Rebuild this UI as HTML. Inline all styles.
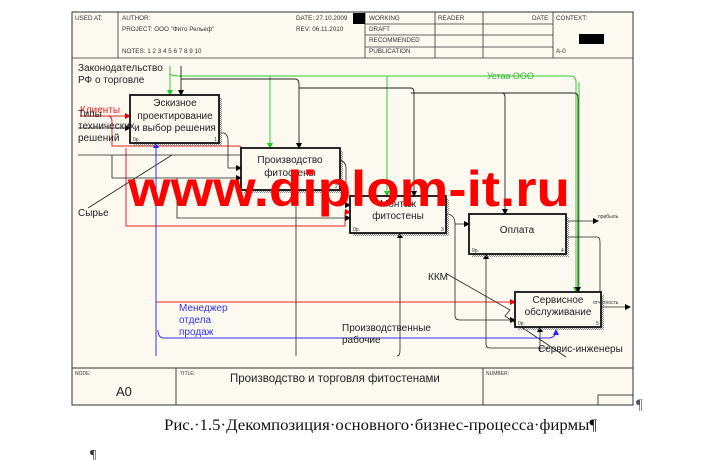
<!DOCTYPE html>
<html><head><meta charset="utf-8"><style>
html,body{margin:0;padding:0;background:#fff;width:712px;height:460px;overflow:hidden}
svg{display:block}
text{font-family:"Liberation Sans",Arial,sans-serif}
text.serif{font-family:"Liberation Serif","Times New Roman",serif}
</style></head><body>
<svg width="712" height="460" viewBox="0 0 712 460" xmlns="http://www.w3.org/2000/svg">
<defs>
<marker id="ak" markerWidth="6" markerHeight="6" refX="5" refY="3" orient="auto" markerUnits="userSpaceOnUse"><path d="M0,0 L6,3 L0,6z" fill="#000"/></marker>
<marker id="ar" markerWidth="6" markerHeight="6" refX="5" refY="3" orient="auto" markerUnits="userSpaceOnUse"><path d="M0,0 L6,3 L0,6z" fill="#e00"/></marker>
<marker id="ag" markerWidth="6" markerHeight="6" refX="5" refY="3" orient="auto" markerUnits="userSpaceOnUse"><path d="M0,0 L6,3 L0,6z" fill="#2c2"/></marker>
<marker id="ab" markerWidth="6" markerHeight="6" refX="5" refY="3" orient="auto" markerUnits="userSpaceOnUse"><path d="M0,0 L6,3 L0,6z" fill="#22f"/></marker>
<pattern id="sh" width="2" height="2" patternUnits="userSpaceOnUse"><rect width="1" height="1" fill="#888"/><rect x="1" y="1" width="1" height="1" fill="#888"/></pattern>
</defs>
<rect x="72" y="12" width="561" height="393" fill="#fcf9f0" stroke="#333" stroke-width="1"/>
<!-- header -->
<g stroke="#333" stroke-width="0.8" fill="none">
<line x1="72" y1="58" x2="633" y2="58"/>
<line x1="118" y1="12" x2="118" y2="58"/>
<line x1="365" y1="12" x2="365" y2="58"/>
<line x1="435" y1="12" x2="435" y2="58"/>
<line x1="483" y1="12" x2="483" y2="58"/>
<line x1="365" y1="24" x2="553" y2="24"/>
<line x1="365" y1="35" x2="553" y2="35"/>
<line x1="365" y1="47" x2="553" y2="47"/>
<line x1="553" y1="12" x2="553" y2="58"/>
</g>
<rect x="353" y="13" width="12" height="11" fill="#000"/>
<rect x="579" y="34" width="25" height="10" fill="#000"/>
<g font-size="6.3" fill="#333">
<text x="75" y="20">USED AT:</text>
<text x="122" y="20">AUTHOR:</text>
<text x="122" y="31">PROJECT:  ООО "Фито Рельеф"</text>
<text x="122" y="53">NOTES:  1  2  3  4  5  6  7  8  9  10</text>
<text x="296" y="20">DATE:  27.10.2009</text>
<text x="296" y="31">REV:   06.11.2010</text>
<text x="369" y="20">WORKING</text>
<text x="369" y="31">DRAFT</text>
<text x="369" y="42">RECOMMENDED</text>
<text x="369" y="53">PUBLICATION</text>
<text x="438" y="20">READER</text>
<text x="532" y="20">DATE</text>
<text x="556" y="20">CONTEXT:</text>
<text x="556" y="53">A-0</text>
</g>
<!-- footer -->
<g stroke="#333" stroke-width="0.9" fill="none">
<line x1="72" y1="368" x2="633" y2="368"/>
<line x1="176" y1="368" x2="176" y2="405"/>
<line x1="483" y1="368" x2="483" y2="405"/>
<rect x="598" y="395" width="35" height="10"/>
</g>
<text x="75" y="375" font-size="5" fill="#333">NODE:</text>
<text x="180" y="375" font-size="5" fill="#333">TITLE:</text>
<text x="486" y="375" font-size="5" fill="#333">NUMBER:</text>
<text x="116" y="396" font-size="13" fill="#222">A0</text>
<text x="230" y="382" font-size="11.5" fill="#222">Производство и  торговля фитостенами</text>
<text class="serif" x="636" y="409" font-size="15" fill="#555">¶</text>
<text class="serif" x="164" y="430" font-size="16" fill="#111" textLength="433" lengthAdjust="spacingAndGlyphs">Рис.·1.5·Декомпозиция·основного·бизнес-процесса·фирмы¶</text>
<text class="serif" x="90" y="459" font-size="14" fill="#333">¶</text>

<!-- green arrows -->
<g stroke="#3c3" stroke-width="1" fill="none">
<path d="M170,66 V95" marker-end="url(#ag)"/>
<path d="M170,74 Q172,76 180,76 H270 V148" marker-end="url(#ag)"/>
<path d="M180,76 H570 Q576,76 576,82 V292" marker-end="url(#ag)"/>
<path d="M387,76 V196" marker-end="url(#ag)"/>
<path d="M579,82 V292"/>
</g>
<text x="487" y="79" font-size="9" fill="#3b3">Устав ООО</text>
<!-- black control arrows -->
<g stroke="#222" stroke-width="0.9" fill="none">
<path d="M181,66 V95" marker-end="url(#ak)"/>
<path d="M181,79 H295 Q299,79 299,84 V148" marker-end="url(#ak)"/>
<path d="M299,88 H411 Q414,88 414,93 V196" marker-end="url(#ak)"/>
<path d="M411,93 H502 Q505,93 505,98 V214" marker-end="url(#ak)"/>
<path d="M502,93 H574 Q578,93 578,98 V292" marker-end="url(#ak)"/>
</g>
<!-- left inputs -->
<g stroke="#e22" stroke-width="1" fill="none">
<path d="M80,116 H130" marker-end="url(#ar)"/>
<path d="M108,116 Q112,116 112,122 V146 H238 Q242,146 242,150 V160" />
<path d="M126,148 V226 H345 V212 H350" marker-end="url(#ar)"/>
<path d="M156,302 H515" marker-end="url(#ar)"/>
</g>
<text x="80" y="113" font-size="10" fill="#e22">Клиенты</text>
<g stroke="#222" stroke-width="0.8" fill="none">
<path d="M78,128 H130" marker-end="url(#ak)"/>
<path d="M78,155 H240"/>
<path d="M112,155 V178 H241" marker-end="url(#ak)"/>
<path d="M219,133 H224 Q228,135 228,140 V168 H241" marker-end="url(#ak)"/>
<path d="M177,178 V218 H350" marker-end="url(#ak)"/>
<path d="M340,160 Q346,162 346,168 V205 H350" marker-end="url(#ak)"/>
<path d="M446,214 Q455,214 455,224 H469" marker-end="url(#ak)"/>
<path d="M88,208 L172,155"/>
<path d="M296,356 V180" marker-end="url(#ak)"/>
<path d="M397,356 Q400,356 400,350 V233" marker-end="url(#ak)"/>
<path d="M567,221 H598" marker-end="url(#ak)"/>
<path d="M567,237 H597 Q600,237 600,242 V292"/>
<path d="M455,224 V316 Q455,320 460,320 H515" marker-end="url(#ak)"/>
<path d="M490,348 Q486,348 486,344 V254" marker-end="url(#ak)"/>
<path d="M490,348 H548"/>
<path d="M540,352 V327" marker-end="url(#ak)"/>
<path d="M601,307 H630" marker-end="url(#ak)"/>
<path d="M447,274 L510,310 L505,316 L566,357"/>
</g>
<!-- blue -->
<g stroke="#33e" stroke-width="1" fill="none">
<path d="M156,356 V143" marker-end="url(#ab)"/>
<path d="M158,330 Q158,338 164,338 H548 Q556,338 556,330" marker-end="url(#ab)"/>
</g>
<text x="179" y="311" font-size="10" fill="#33e">Менеджер</text>
<text x="179" y="323" font-size="10" fill="#33e">отдела</text>
<text x="179" y="335" font-size="10" fill="#33e">продаж</text>

<!-- boxes -->
<g>
<rect x="133" y="98" width="89" height="48" fill="url(#sh)"/>
<rect x="130" y="95" width="89" height="48" fill="#fcf9f0" stroke="#111" stroke-width="1.8"/>
<rect x="244" y="151" width="99" height="42" fill="url(#sh)"/>
<rect x="241" y="148" width="99" height="42" fill="#fcf9f0" stroke="#111" stroke-width="1.8"/>
<rect x="353" y="199" width="96" height="37" fill="url(#sh)"/>
<rect x="350" y="196" width="96" height="37" fill="#fcf9f0" stroke="#111" stroke-width="1.8"/>
<rect x="472" y="217" width="97" height="40" fill="url(#sh)"/>
<rect x="469" y="214" width="97" height="40" fill="#fcf9f0" stroke="#111" stroke-width="1.8"/>
<rect x="518" y="295" width="86" height="35" fill="url(#sh)"/>
<rect x="515" y="292" width="86" height="35" fill="#fcf9f0" stroke="#111" stroke-width="1.8"/>
</g>
<g font-size="10" fill="#222" text-anchor="middle">
<text x="175" y="106">Эскизное</text>
<text x="175" y="119">проектирование</text>
<text x="175" y="131">и выбор решения</text>
<text x="290" y="163">Производство</text>
<text x="290" y="176">фитостены</text>
<text x="398" y="207">Монтаж</text>
<text x="398" y="219">фитостены</text>
<text x="517" y="233">Оплата</text>
<text x="558" y="303">Сервисное</text>
<text x="558" y="315">обслуживание</text>
</g>
<g font-size="5" fill="#333">
<text x="133" y="141">0р.</text><text x="214" y="141">1</text>
<text x="335" y="188">2</text>
<text x="353" y="231">0р.</text><text x="441" y="231">3</text>
<text x="472" y="252">0р.</text><text x="561" y="252">4</text>
<text x="518" y="325">0р.</text><text x="596" y="325">5</text>
<text x="598" y="218">прибыль</text>
<text x="593" y="304">отчетность</text>
</g>
<!-- labels -->
<g font-size="10" fill="#222">
<text x="78" y="71">Законодательство</text>
<text x="78" y="83">РФ о торговле</text>
<text x="78" y="117">Типы</text>
<text x="78" y="129">технических</text>
<text x="78" y="141">решений</text>
<text x="78" y="216">Сырье</text>
<text x="428" y="280">ККМ</text>
<text x="342" y="331">Производственные</text>
<text x="342" y="343">рабочие</text>
<text x="538" y="352">Сервис-инженеры</text>
</g>
<text x="128" y="206" font-size="50" font-weight="bold" fill="#f00" textLength="442" lengthAdjust="spacingAndGlyphs">www.diplom-it.ru</text>
</svg>
</body></html>
